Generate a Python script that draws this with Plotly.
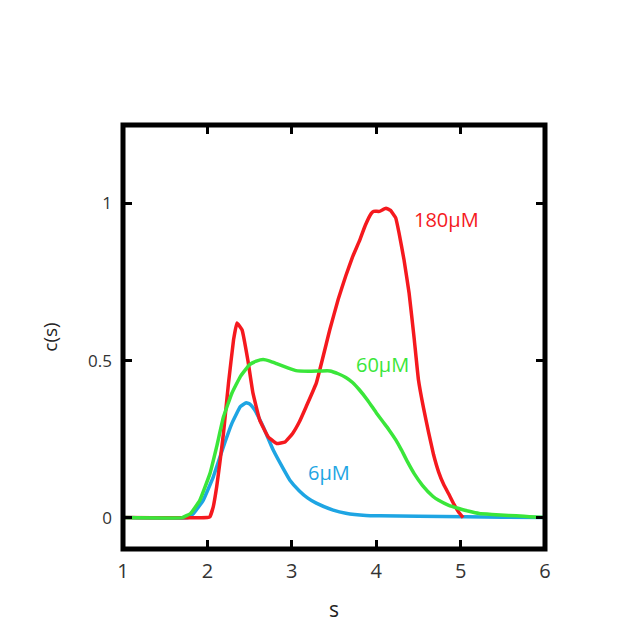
import plotly.graph_objects as go

# ---- data ----
red_s = [1.0, 2.0, 2.03, 2.07, 2.11, 2.15, 2.19, 2.25, 2.31, 2.35, 2.41, 2.48, 2.54, 2.62, 2.72, 2.82,
         2.92, 3.01, 3.09, 3.17, 3.29, 3.45, 3.55, 3.64, 3.72, 3.80, 3.87, 3.94, 3.97, 4.04, 4.115, 4.17, 4.23, 4.27, 4.33,
         4.39, 4.45, 4.50, 4.56, 4.62, 4.68, 4.74, 4.80, 4.86, 4.92, 4.98, 5.03]
red_c = [0, 0, 0.003, 0.035, 0.098, 0.18, 0.268, 0.428, 0.566, 0.62, 0.598, 0.5, 0.396, 0.31, 0.257, 0.236,
         0.241, 0.268, 0.305, 0.353, 0.428, 0.598, 0.695, 0.77, 0.83, 0.88, 0.93, 0.968, 0.975, 0.975, 0.985, 0.978, 0.955, 0.907, 0.82,
         0.714, 0.57, 0.44, 0.35, 0.272, 0.2, 0.145, 0.105, 0.075, 0.043, 0.016, 0.0]

green_s = [1.0, 1.70, 1.80, 1.91, 2.03, 2.11, 2.19, 2.29, 2.39, 2.50, 2.58, 2.66, 2.74, 2.82, 2.96, 3.05,
           3.20, 3.35, 3.45, 3.55, 3.64, 3.72, 3.80, 3.90, 4.0, 4.08, 4.15, 4.23, 4.30, 4.37, 4.45, 4.55, 4.67,
           4.74, 4.86, 4.98, 5.10, 5.22, 5.37, 5.57, 5.75, 5.88, 6.0]
green_c = [0, 0, 0.013, 0.055, 0.14, 0.226, 0.32, 0.396, 0.449, 0.487, 0.498, 0.503, 0.498, 0.49, 0.476, 0.468,
           0.466, 0.467, 0.467, 0.458, 0.446, 0.43, 0.407, 0.373, 0.334, 0.305, 0.28, 0.248, 0.215, 0.178, 0.14, 0.102, 0.068,
           0.055, 0.039, 0.029, 0.02, 0.013, 0.01, 0.007, 0.004, 0.002, 0.0]

blue_s = [1.0, 1.77, 1.835, 1.95, 2.07, 2.19, 2.29, 2.39, 2.46, 2.51, 2.56, 2.66, 2.78, 2.90, 2.975, 3.09,
          3.19, 3.29, 3.49, 3.64, 3.88, 4.04, 4.5, 5.06, 5.5, 6.0]
blue_c = [0, 0, 0.013, 0.055, 0.13, 0.226, 0.3, 0.353, 0.366, 0.36, 0.343, 0.29, 0.215, 0.155, 0.12, 0.085,
          0.062, 0.046, 0.024, 0.014, 0.007, 0.006, 0.004, 0.003, 0.001, 0.0]

x_ticks = [1, 2, 3, 4, 5, 6]
y_ticks = [0, 0.5, 1]
y_ticktext = ["0", "0.5", "1"]

labels = ["180μM", "60μM", "6μM"]
label_s = [4.83, 4.075, 3.435]
label_c = [0.948, 0.486, 0.142]

RED = "#f5191e"
GREEN = "#3ae63a"
BLUE = "#1ea5e3"
FONT = "Open Sans"

fig = go.Figure()
for s, c, col in [(blue_s, blue_c, BLUE), (red_s, red_c, RED), (green_s, green_c, GREEN)]:
    fig.add_trace(go.Scatter(x=s, y=c, mode="lines", cliponaxis=False,
                             line=dict(color=col, width=3.5, shape="spline", smoothing=0.3),
                             showlegend=False, hoverinfo="skip"))

for t, xs, yc, col in zip(labels, label_s, label_c, [RED, GREEN, BLUE]):
    fig.add_annotation(x=xs, y=yc, text=t, showarrow=False,
                       font=dict(family=FONT, size=20, color=col))

fig.add_shape(type="rect", xref="paper", yref="paper", x0=0, x1=1, y0=0, y1=1,
              line=dict(color="black", width=5), layer="above")

fig.update_layout(
    width=630, height=623,
    margin=dict(l=123, r=85, t=125, b=74),
    paper_bgcolor="white", plot_bgcolor="white",
    font=dict(family=FONT, color="#333333"),
    xaxis=dict(range=[1, 6], tickvals=x_ticks, ticks="inside", ticklen=9, tickwidth=2.5,
               tickcolor="black", mirror="ticks", showline=False, showgrid=False, zeroline=False,
               ticklabelstandoff=8, automargin=False,
               tickfont=dict(size=20, color="#333333"),
               title=dict(text="s", font=dict(size=21, color="#222222"), standoff=24)),
    yaxis=dict(range=[-0.1, 1.25], tickvals=y_ticks, ticktext=y_ticktext, ticks="inside",
               ticklen=9, tickwidth=2.5, tickcolor="black", mirror="ticks", showline=False,
               showgrid=False, zeroline=False, ticklabelstandoff=10, automargin=False,
               tickfont=dict(size=17, color="#333333"),
               title=dict(text="c(s)", font=dict(size=19, color="#222222"), standoff=25)),
)

fig.write_html("out.html")
